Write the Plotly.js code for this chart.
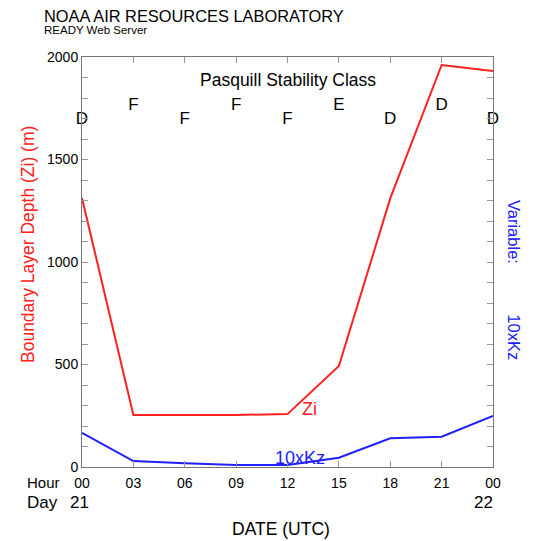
<!DOCTYPE html>
<html><head><meta charset="utf-8">
<script src="https://cdn.plot.ly/plotly-3.0.1.min.js"></script>
<style>html,body{margin:0;padding:0;background:#fff}#chart{width:534px;height:541px}</style>
</head><body><div id="chart"></div>
<script>
const hours = [0, 3, 6, 9, 12, 15, 18, 21, 24];
const hourLabels = ["00", "03", "06", "09", "12", "15", "18", "21", "00"];
const zi = [1312, 254, 254, 254, 258, 493, 1310, 1961, 1932];
const kz10 = [166, 29, 18, 10, 10, 45, 140, 148, 249];
const stabilityClass = ["D", "F", "F", "F", "F", "E", "D", "D", "D"];
const dayHours = [0, 24];
const dayLabels = ["21", "22"];

const FONT = "Liberation Sans, Arial, Helvetica, sans-serif";
const stabY = stabilityClass.map((c, i) => (i % 2 === 0 ? 1693 : 1761));

const traces = [
  {x: hours, y: zi, type: "scatter", mode: "lines", line: {color: "#ff2020", width: 2}, hoverinfo: "skip"},
  {x: hours, y: kz10, type: "scatter", mode: "lines", line: {color: "#2020ff", width: 2}, hoverinfo: "skip"},
  {x: hours, y: stabY, type: "scatter", mode: "text", text: stabilityClass,
   textfont: {family: FONT, size: 17, color: "#000"}, textposition: "middle center", hoverinfo: "skip", cliponaxis: false}
];

function pa(px, py, text, size, color, extra) {
  return Object.assign({xref: "paper", yref: "paper", x: (px - 82) / 411, y: (467 - py) / 410,
    xanchor: "center", yanchor: "middle", text: text, showarrow: false,
    font: {family: FONT, size: size, color: color}}, extra || {});
}

const ann = [
  pa(42, 16, "NOAA AIR RESOURCES LABORATORY", 16.4, "#000", {xanchor: "left"}),
  pa(42, 30, "READY Web Server", 11.5, "#000", {xanchor: "left"}),
  {xref: "x", yref: "y", x: 12, y: 1890, xanchor: "center", yanchor: "middle", text: "Pasquill Stability Class", showarrow: false,
   font: {family: FONT, size: 17.5, color: "#000"}},
  {xref: "x", yref: "y", x: 13.3, y: 283, xanchor: "center", yanchor: "middle", text: "Zi", showarrow: false,
   font: {family: FONT, size: 18, color: "#ff2020"}},
  {xref: "x", yref: "y", x: 12.75, y: 42, xanchor: "center", yanchor: "middle", text: "10xKz", showarrow: false,
   font: {family: FONT, size: 18, color: "#2020ff"}},
  pa(28, 245, "Boundary Layer Depth (Zi) (m)", 17.5, "#ff2020", {textangle: -90}),
  pa(514, 280, "Variable:\u00a0\u00a0\u00a0\u00a0\u00a0\u00a0\u00a0\u00a0\u00a0\u00a0\u00a010xKz", 16.5, "#2020ff", {textangle: 90}),
  pa(43, 482, "Hour", 15, "#000"),
  pa(42, 502, "Day", 17, "#000"),
  pa(281, 529, "DATE (UTC)", 17.5, "#000")
];
dayHours.forEach((h, i) => {
  ann.push({xref: "x", yref: "paper", x: h, y: (467 - 502) / 410, xanchor: "center", yanchor: "middle",
    text: dayLabels[i], showarrow: false, xshift: i === 0 ? -3 : -10, font: {family: FONT, size: 17, color: "#000"}});
});

const layout = {
  width: 534, height: 541,
  margin: {l: 82, r: 41, t: 57, b: 74, pad: 0},
  paper_bgcolor: "#fff", plot_bgcolor: "#fff",
  showlegend: false,
  font: {family: FONT, size: 13, color: "#000"},
  xaxis: {range: [0, 24], tickvals: hours, ticktext: hourLabels, ticks: "inside", ticklen: 6, tickcolor: "#999",
    showgrid: false, zeroline: false, showline: true, linecolor: "#777", linewidth: 1, mirror: "allticks",
    ticklabelstandoff: 3, tickfont: {family: FONT, size: 14, color: "#000"}},
  yaxis: {range: [0, 2000], dtick: 500, tick0: 0, ticks: "inside", ticklen: 6, tickcolor: "#999",
    minor: {dtick: 100, ticks: "inside", ticklen: 6, tickcolor: "#999", showgrid: false},
    showgrid: false, zeroline: false, showline: true, linecolor: "#777", linewidth: 1, mirror: "allticks",
    tickfont: {family: FONT, size: 14, color: "#000"}},
  annotations: ann
};

Plotly.newPlot("chart", traces, layout, {staticPlot: true, displayModeBar: false});
</script>
</body></html>
